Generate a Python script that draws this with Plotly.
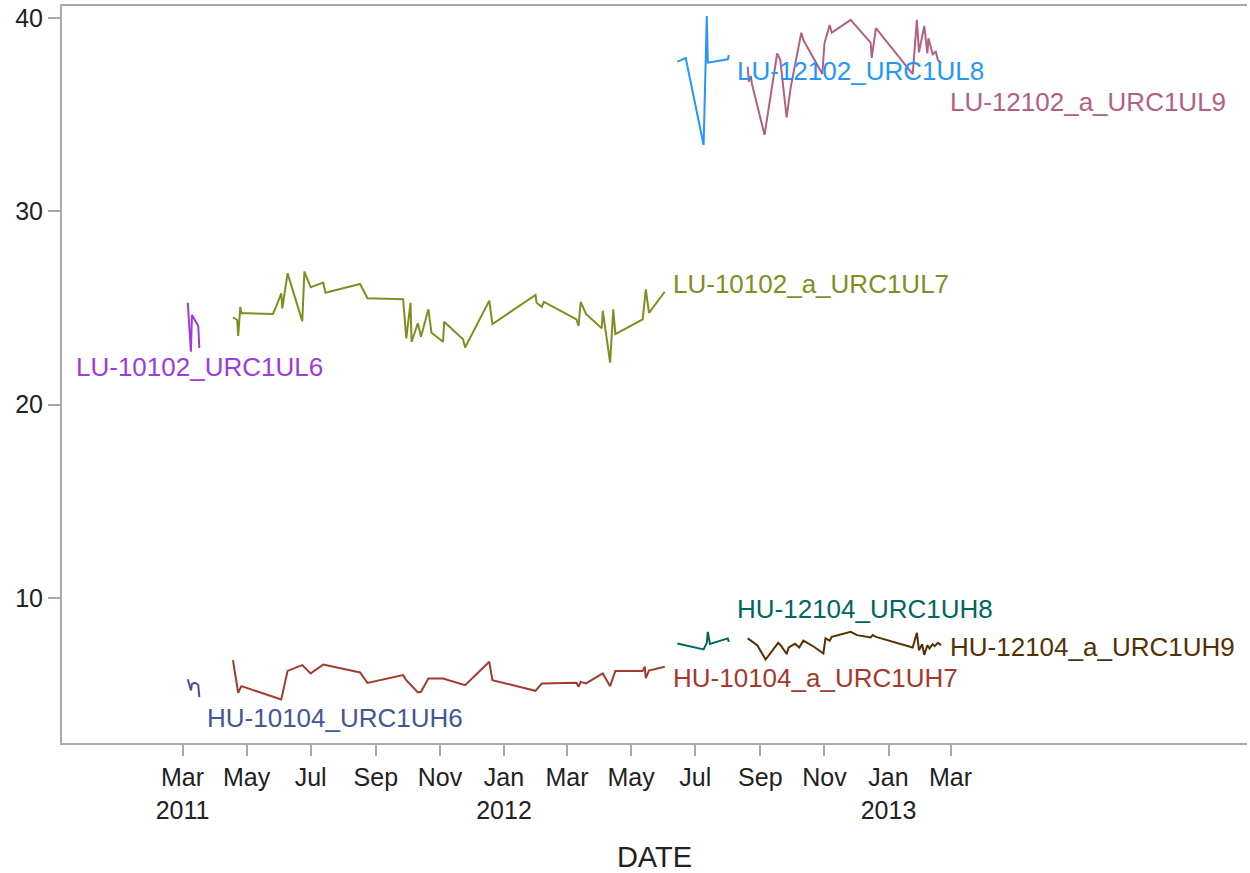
import plotly.graph_objects as go

# ---- data -------------------------------------------------------------
ul6_dates = ["2011-03-06", "2011-03-09", "2011-03-10", "2011-03-13", "2011-03-16", "2011-03-17"]
ul6_vals = [25.27, 22.74, 24.64, 24.32, 24.07, 22.93]

uh6_dates = ["2011-03-06", "2011-03-09", "2011-03-10", "2011-03-13", "2011-03-16", "2011-03-17"]
uh6_vals = [5.80, 5.22, 5.55, 5.62, 5.50, 4.87]

ul7_dates = ["2011-04-18", "2011-04-22", "2011-04-23", "2011-04-25", "2011-04-26", "2011-05-26",
             "2011-05-29", "2011-06-03", "2011-06-04", "2011-06-09", "2011-06-23", "2011-06-25",
             "2011-07-01", "2011-07-13", "2011-07-15", "2011-08-17", "2011-08-24", "2011-09-27",
             "2011-09-30", "2011-10-04", "2011-10-05", "2011-10-11", "2011-10-14", "2011-10-21",
             "2011-10-24", "2011-11-04", "2011-11-05", "2011-11-23", "2011-11-25", "2011-12-18",
             "2011-12-21", "2012-01-31", "2012-02-01", "2012-02-06", "2012-02-08", "2012-03-10",
             "2012-03-12", "2012-03-14", "2012-03-19", "2012-04-03", "2012-04-04", "2012-04-11",
             "2012-04-14", "2012-04-16", "2012-05-12", "2012-05-15", "2012-05-18", "2012-06-02"]
ul7_vals = [24.52, 24.38, 23.55, 25.06, 24.74, 24.69,
            25.06, 25.76, 24.98, 26.79, 24.32, 26.88,
            26.07, 26.31, 25.79, 26.24, 25.50, 25.45,
            23.43, 25.27, 23.25, 24.21, 23.51, 24.93,
            23.72, 23.25, 24.29, 23.38, 22.96, 25.38,
            24.17, 25.67, 25.27, 25.06, 25.32, 24.41,
            24.07, 25.32, 24.69, 23.95, 24.86, 22.17,
            24.93, 23.65, 24.41, 25.96, 24.75, 25.84]

uh7_dates = ["2011-04-18", "2011-04-23", "2011-04-26", "2011-06-03", "2011-06-09", "2011-06-23",
             "2011-07-01", "2011-07-13", "2011-08-17", "2011-08-24", "2011-09-27", "2011-09-30",
             "2011-10-11", "2011-10-14", "2011-10-21", "2011-11-04", "2011-11-25", "2011-12-18",
             "2011-12-21", "2012-01-31", "2012-02-06", "2012-03-10", "2012-03-12", "2012-03-14",
             "2012-03-19", "2012-04-04", "2012-04-11", "2012-04-16", "2012-05-12", "2012-05-14",
             "2012-05-15", "2012-05-18", "2012-06-02"]
uh7_vals = [6.79, 5.10, 5.44, 4.75, 6.23, 6.53,
            6.10, 6.56, 6.15, 5.61, 6.01, 5.75,
            5.12, 5.15, 5.84, 5.84, 5.49, 6.70,
            5.75, 5.20, 5.58, 5.61, 5.41, 5.66,
            5.58, 6.10, 5.44, 6.23, 6.23, 6.45,
            5.85, 6.25, 6.44]

ul8_dates = ["2012-06-14", "2012-06-22", "2012-07-09", "2012-07-12", "2012-07-13", "2012-08-01", "2012-08-02"]
ul8_vals = [37.74, 37.92, 33.43, 40.10, 37.69, 37.86, 38.09]

uh8_dates = ["2012-06-14", "2012-06-22", "2012-07-09", "2012-07-12", "2012-07-13", "2012-07-15",
             "2012-08-01", "2012-08-02"]
uh8_vals = [7.65, 7.56, 7.34, 7.68, 8.25, 7.62, 7.91, 7.73]

ul9_dates = ["2012-08-20", "2012-08-21", "2012-08-23", "2012-08-24", "2012-09-05", "2012-09-17",
             "2012-09-20", "2012-09-26", "2012-09-30", "2012-10-10", "2012-10-12", "2012-10-20",
             "2012-10-30", "2012-11-01", "2012-11-06", "2012-11-08", "2012-11-26", "2012-12-02",
             "2012-12-15", "2012-12-16", "2012-12-20", "2013-01-24", "2013-01-28", "2013-01-30",
             "2013-02-02", "2013-02-04", "2013-02-07", "2013-02-08", "2013-02-12", "2013-02-15",
             "2013-02-17", "2013-02-20"]
ul9_vals = [37.48, 36.70, 37.00, 36.59, 33.95, 38.17,
            37.83, 34.86, 36.45, 39.24, 38.86, 38.09,
            37.10, 38.69, 39.64, 39.24, 39.90, 39.53,
            38.73, 37.93, 39.47, 37.10, 39.90, 38.22,
            38.95, 39.59, 38.17, 38.95, 38.13, 38.26,
            37.83, 37.66]

uh9_dates = ["2012-08-20", "2012-08-29", "2012-09-06", "2012-09-13", "2012-09-18", "2012-09-21",
             "2012-09-26", "2012-09-28", "2012-10-04", "2012-10-08", "2012-10-12", "2012-10-22",
             "2012-10-31", "2012-11-02", "2012-11-06", "2012-11-08", "2012-11-26", "2012-12-02",
             "2012-12-15", "2012-12-17", "2012-12-20", "2013-01-24", "2013-01-25", "2013-01-28",
             "2013-01-30", "2013-02-02", "2013-02-04", "2013-02-07", "2013-02-09", "2013-02-12",
             "2013-02-14", "2013-02-17", "2013-02-20"]
uh9_vals = [7.91, 7.56, 6.82, 7.30, 7.68, 7.51,
            7.10, 7.44, 7.63, 7.44, 7.79, 7.48,
            7.13, 7.91, 7.79, 7.99, 8.25, 8.08,
            7.96, 8.08, 7.99, 7.44, 7.65, 8.20,
            7.30, 7.61, 7.06, 7.56, 7.39, 7.61,
            7.51, 7.68, 7.56]

tick_dates = ["2011-03-01", "2011-05-01", "2011-07-01", "2011-09-01", "2011-11-01",
              "2012-01-01", "2012-03-01", "2012-05-01", "2012-07-01", "2012-09-01",
              "2012-11-01", "2013-01-01", "2013-03-01"]
tick_labels = ["Mar<br>2011", "May", "Jul", "Sep", "Nov",
               "Jan<br>2012", "Mar", "May", "Jul", "Sep",
               "Nov", "Jan<br>2013", "Mar"]

# ---- series styling: name, data, colour, curve-label placement ---------
series = [
    ("HU-10104_URC1UH6", uh6_dates, uh6_vals, "#445694", dict(xanchor="left", yanchor="top", xshift=6, yshift=-4)),
    ("HU-10104_a_URC1UH7", uh7_dates, uh7_vals, "#A23A2E", dict(xanchor="left", yanchor="top", xshift=6, yshift=6)),
    ("HU-12104_URC1UH8", uh8_dates, uh8_vals, "#01665E", dict(xanchor="left", yanchor="bottom", xshift=6, yshift=16)),
    ("HU-12104_a_URC1UH9", uh9_dates, uh9_vals, "#543005", dict(xanchor="left", yanchor="middle", xshift=7, yshift=-2)),
    ("LU-10102_URC1UL6", ul6_dates, ul6_vals, "#9D3CDB", dict(xanchor="center", yanchor="top", xshift=0, yshift=-2)),
    ("LU-10102_a_URC1UL7", ul7_dates, ul7_vals, "#7F8E1F", dict(xanchor="left", yanchor="middle", xshift=6, yshift=8)),
    ("LU-12102_URC1UL8", ul8_dates, ul8_vals, "#2597FA", dict(xanchor="left", yanchor="top", xshift=6, yshift=1)),
    ("LU-12102_a_URC1UL9", ul9_dates, ul9_vals, "#B26084", dict(xanchor="left", yanchor="top", xshift=7, yshift=-22)),
]

FONT = "Arial, 'Liberation Sans', sans-serif"
AXIS_GREY = "#A9A9A9"

fig = go.Figure()
annotations = []
for name, xs, ys, color, lab in series:
    fig.add_trace(go.Scatter(x=xs, y=ys, mode="lines", name=name,
                             line=dict(color=color, width=2)))
    annotations.append(dict(x=xs[-1], y=ys[-1], xref="x", yref="y", text=name,
                            showarrow=False, font=dict(family=FONT, size=26, color=color),
                            **lab))

fig.update_layout(
    width=1250, height=873,
    margin=dict(l=62, r=3, t=6, b=130),
    paper_bgcolor="white", plot_bgcolor="white",
    showlegend=False,
    annotations=annotations,
    font=dict(family=FONT, size=25, color="#222222"),
    xaxis=dict(
        type="date",
        range=["2010-11-06 07:00", "2013-12-08 05:00"],
        tickvals=tick_dates, ticktext=tick_labels,
        ticks="outside", ticklen=11, tickwidth=1.5, tickcolor=AXIS_GREY,
        showline=True, linecolor=AXIS_GREY, linewidth=2, mirror=True,
        showgrid=False, zeroline=False,
        tickfont=dict(size=25, color="#222222"),
        title=dict(text="DATE", font=dict(size=29, color="#222222"), standoff=24),
    ),
    yaxis=dict(
        range=[2.5, 40.62],
        tickvals=[10, 20, 30, 40],
        ticks="outside", ticklen=12, tickwidth=1.5, tickcolor=AXIS_GREY,
        showline=True, linecolor=AXIS_GREY, linewidth=2, mirror=False,
        showgrid=False, zeroline=False,
        tickfont=dict(size=25, color="#222222"),
    ),
)

fig.write_html("out.html")
